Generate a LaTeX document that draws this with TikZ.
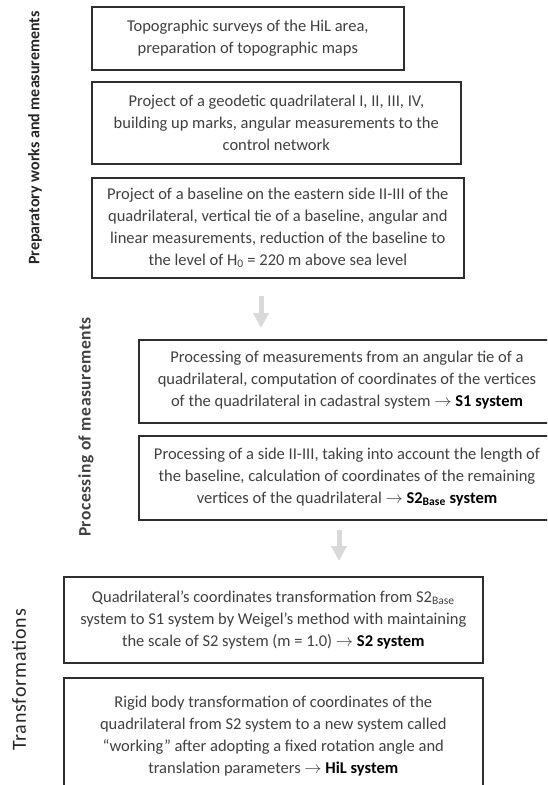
\documentclass[tikz,border=0pt]{standalone}
\usepackage{fontspec}
\setmainfont{Carlito}
\usetikzlibrary{arrows.meta}
\definecolor{txt}{HTML}{404040}
\definecolor{brd}{HTML}{2E2E2E}
\definecolor{arr}{HTML}{D9D9D9}
\newcommand{\hl}[1]{{\color{black}\bfseries #1}}
\begin{document}
\begin{tikzpicture}[x=1pt,y=-1pt,
  box/.style={draw=brd, line width=1.6pt, rectangle, inner sep=0pt, anchor=north west,
    align=center, text=txt, font=\fontsize{16.5}{22}\selectfont},
  boxtext/.style={inner sep=0pt, align=center, text=txt, font=\fontsize{16.5}{22}\selectfont},
  flow/.style={draw=arr, line width=5pt, -{Triangle[width=15pt,length=15pt]}},
  sidelabel/.style={rotate=90, anchor=center, inner sep=0pt}]
\useasboundingbox (0,0) rectangle (547,785);
\clip (0,0) rectangle (547,785);

\node[box, minimum width=312pt, minimum height=63pt] (b1) at (91,6)
  {Topographic surveys of the HiL area,\\preparation of topographic maps};
\node[box, minimum width=369pt, minimum height=82pt] (b2) at (91,81)
  {Project of a geodetic quadrilateral I, II, III, IV,\\building up marks, angular measurements to the\\control network};
\node[box, minimum width=372pt, minimum height=100pt] (b3) at (91,177)
  {Project of a baseline on the eastern side II-III of the\\quadrilateral, vertical tie of a baseline, angular and\\linear measurements, reduction of the baseline to\\the level of H\textsubscript{0} = 220 m above sea level};
\node[box, minimum width=460pt, minimum height=83pt] (b4) at (138,339) {};
\node[boxtext] (t4) at (347,380.5)
  {Processing of measurements from an angular tie of a\\quadrilateral, computation of coordinates of the vertices\\of the quadrilateral in cadastral system $\rightarrow$ \hl{S1 system}};
\node[box, minimum width=460pt, minimum height=84pt] (b5) at (138,435) {};
\node[boxtext] (t5) at (347,477)
  {Processing of a side II-III, taking into account the length of\\the baseline, calculation of coordinates of the remaining\\vertices of the quadrilateral $\rightarrow$ \hl{S2\textsubscript{Base} system}};
\node[box, minimum width=419pt, minimum height=86pt] (b6) at (63,576)
  {Quadrilateral’s coordinates transformation from S2\textsubscript{Base}\\system to S1 system by Weigel’s method with maintaining\\the scale of S2 system (m = 1.0) $\rightarrow$ \hl{S2 system}};
\node[box, minimum width=419pt, minimum height=116pt] (b7) at (63,677)
  {Rigid body transformation of coordinates of the\\quadrilateral from S2 system to a new system called\\“working” after adopting a fixed rotation angle and\\translation parameters $\rightarrow$ \hl{HiL system}};

\coordinate (a1s) at (261,296);
\coordinate (a1e) at (261,328);
\coordinate (a2s) at (339,530);
\coordinate (a2e) at (339,561);
\draw[flow] (a1s) -- (a1e);
\draw[flow] (a2s) -- (a2e);

\node[sidelabel, text=black!85, font=\fontsize{16}{18}\bfseries\selectfont] (l1) at (35,138)
  {Preparatory works and measurements};
\node[sidelabel, text=black!75, font=\fontsize{17.5}{20}\bfseries\selectfont\addfontfeatures{LetterSpace=3}] (l2) at (86,427)
  {Processing of measurements};
\node[sidelabel, text=black!85, font=\fontsize{20}{22}\selectfont\addfontfeatures{LetterSpace=4}] (l3) at (19,680)
  {Transformations};
\end{tikzpicture}
\end{document}
